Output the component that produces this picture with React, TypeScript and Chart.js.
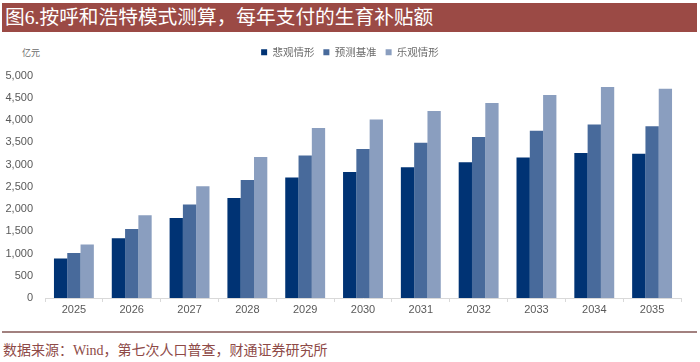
import React, { useEffect, useRef } from "react";
import { Chart, registerables, layouts } from "chart.js";

Chart.register(...registerables);

const categories = ["2025", "2026", "2027", "2028", "2029", "2030", "2031", "2032", "2033", "2034", "2035"];
const seriesNames = ["悲观情形", "预测基准", "乐观情形"];
const pessimistic = [890, 1340, 1800, 2250, 2710, 2830, 2940, 3050, 3160, 3260, 3240];
const baseline = [1010, 1550, 2100, 2650, 3200, 3350, 3490, 3620, 3760, 3900, 3860];
const optimistic = [1200, 1860, 2510, 3170, 3820, 4010, 4200, 4380, 4560, 4740, 4700];
const yMax = 5000;
const yStep = 500;

const seriesColors = ["#003374", "#486A9B", "#8A9EBF"];
const titleText = "图6.按呼和浩特模式测算，每年支付的生育补贴额";
const unitText = "亿元";
const sourceText = "数据来源：Wind，第七次人口普查，财通证券研究所";

function makeSpacer(position: string, size: number, weight: number) {
  const horizontal = position === "top" || position === "bottom";
  return {
    position,
    weight,
    fullSize: horizontal,
    options: {},
    top: 0,
    left: 0,
    right: 0,
    bottom: 0,
    width: 0,
    height: 0,
    isHorizontal() {
      return horizontal;
    },
    update(maxWidth: number, maxHeight: number) {
      if (horizontal) {
        this.width = maxWidth;
        this.height = size;
      } else {
        this.width = size;
        this.height = maxHeight;
      }
    },
    draw() {},
    getPadding() {
      return { top: 0, left: 0, right: 0, bottom: 0 };
    },
  };
}

const spacerPlugin = {
  id: "layoutSpacers",
  beforeInit(chart: any) {
    layouts.addBox(chart, makeSpacer("top", 8, 100) as any);
    layouts.addBox(chart, makeSpacer("right", 19, 100) as any);
  },
};

export default function App() {
  const canvasRef = useRef<HTMLCanvasElement | null>(null);

  useEffect(() => {
    if (!canvasRef.current) return;
    const values = [pessimistic, baseline, optimistic];
    const chart = new Chart(canvasRef.current, {
      type: "bar",
      data: {
        labels: categories,
        datasets: seriesNames.map((name, i) => ({
          label: name,
          data: values[i],
          backgroundColor: seriesColors[i],
          borderWidth: 0,
          barPercentage: 1,
          categoryPercentage: 0.69,
        })),
      },
      plugins: [spacerPlugin],
      options: {
        animation: false,
        responsive: false,
        maintainAspectRatio: false,
        layout: { padding: { left: 0, right: 0, top: 2, bottom: 0 } },
        plugins: {
          tooltip: { enabled: false },
          legend: {
            display: true,
            position: "top",
            align: "center",
            labels: {
              boxWidth: 6,
              boxHeight: 6,
              padding: 9,
              color: "#6b6b6b",
              font: { family: '"Noto Sans CJK SC", sans-serif', size: 10.5 },
            },
          },
        },
        scales: {
          x: {
            grid: {
              display: true,
              offset: true,
              drawOnChartArea: false,
              drawTicks: true,
              tickLength: 4,
              color: "#d9d9d9",
            },
            border: { display: true, color: "#d9d9d9", width: 1 },
            ticks: {
              color: "#595959",
              padding: 1,
              font: { family: '"Liberation Sans", Arial, sans-serif', size: 11 },
            },
            afterFit: (scale: any) => {
              scale.height = 28;
            },
          },
          y: {
            min: 0,
            max: yMax,
            grid: { display: false, drawTicks: false },
            border: { display: false },
            ticks: {
              stepSize: yStep,
              padding: 12,
              color: "#595959",
              font: { family: '"Liberation Sans", Arial, sans-serif', size: 11 },
              callback: (v: any) => Number(v).toLocaleString("en-US"),
            },
            afterFit: (scale: any) => {
              scale.width = 45;
            },
          },
        },
      },
    });
    return () => chart.destroy();
  }, []);

  return (
    <div
      style={{
        position: "fixed",
        left: 0,
        top: 0,
        width: 700,
        height: 362,
        background: "#ffffff",
        overflow: "hidden",
      }}
    >
      <div
        style={{
          position: "absolute",
          left: 2,
          top: 3,
          width: 695,
          height: 29,
          background: "#9B4A45",
          color: "#ffffff",
          fontFamily: '"Liberation Serif", "Noto Sans CJK SC", serif',
          fontSize: 19.7,
          lineHeight: "29px",
          paddingLeft: 3,
          boxSizing: "border-box",
          whiteSpace: "nowrap",
        }}
      >
        {titleText}
      </div>
      <div
        style={{
          position: "absolute",
          left: 22,
          top: 47,
          fontFamily: '"Noto Sans CJK SC", sans-serif',
          fontSize: 9,
          color: "#6b6b6b",
          lineHeight: "12px",
        }}
      >
        {unitText}
      </div>
      <canvas
        ref={canvasRef}
        width={700}
        height={290}
        style={{ position: "absolute", left: 0, top: 36, width: 700, height: 290 }}
      />
      <div
        style={{
          position: "absolute",
          left: 2,
          top: 331,
          width: 695,
          height: 2,
          background: "#A2817F",
        }}
      />
      <div
        style={{
          position: "absolute",
          left: 3,
          top: 342,
          fontFamily: '"Liberation Serif", "Noto Sans CJK SC", serif',
          fontSize: 14,
          lineHeight: "18px",
          color: "#8E4A47",
          whiteSpace: "nowrap",
        }}
      >
        {sourceText}
      </div>
    </div>
  );
}
